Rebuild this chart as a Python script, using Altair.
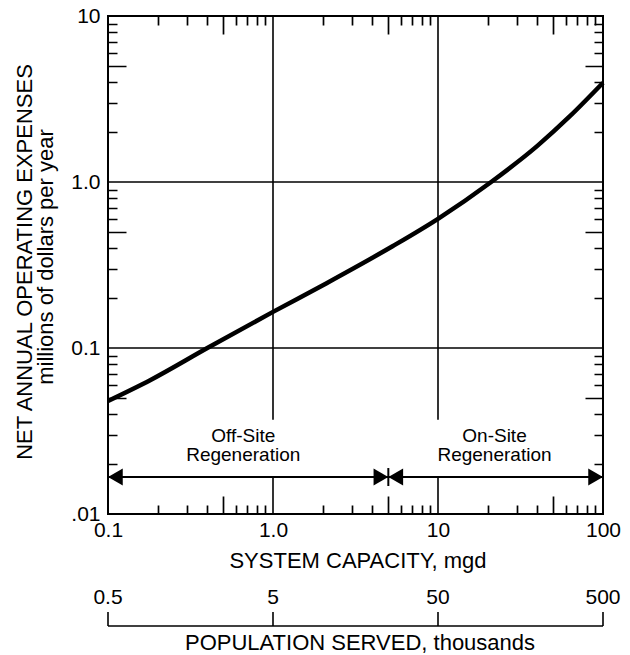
import altair as alt
import pandas as pd

# ---------------- data ----------------
capacity_mgd = [0.1, 0.18, 0.4, 1.0, 2.1, 5.3, 10, 21, 40, 63, 100]
expense_musd = [0.048, 0.064, 0.1, 0.165, 0.245, 0.41, 0.6, 1.0, 1.65, 2.49, 3.96]

x_ticks = [0.1, 1, 10, 100]
x_tick_labels = ["0.1", "1.0", "10", "100"]
y_ticks = [0.01, 0.1, 1, 10]
y_tick_labels = [".01", "0.1", "1.0", "10"]

grid_x = [1, 10]
grid_y = [0.1, 1]
grid_x_gap = [0.037, 0.0167]      # vertical grid lines are interrupted between these

arrow_y = 0.0167
region_bounds = [0.1, 5, 100]     # off-site 0.1-5 mgd, on-site 5-100 mgd
region_text = ["Off-Site\nRegeneration", "On-Site\nRegeneration"]
region_text_x = [0.66, 22]
region_text_y = [0.0295, 0.0295]

population_k = [0.5, 5, 50, 500]
population_labels = ["0.5", "5", "50", "500"]
thousand_people_per_mgd = 5.0

minor_mult = [2, 3, 4, 5, 6, 7, 8, 9]
x_decades = [0.1, 1, 10]
y_decades = [0.01, 0.1, 1]

# ---------------- layout ----------------
W, H = 495, 498
FONT = "Liberation Sans"
XMIN, XMAX = x_ticks[0], x_ticks[-1]
YMIN, YMAX = y_ticks[0], y_ticks[-1]
GRID_W, TICK_W, ARROW_W = 1.6, 1.7, 2.0
SHORT, LONG = 9, 18   # inward tick lengths (px)

xscale = alt.Scale(type="log", domain=[XMIN, XMAX], nice=False)
yscale = alt.Scale(type="log", domain=[YMIN, YMAX], nice=False)


def X(field, **kw):
    return alt.X(field, scale=xscale, axis=None, **kw)


def Y(field, **kw):
    return alt.Y(field, scale=yscale, **kw)


def label_expr(vals, labs):
    s = "''"
    for v, l in zip(vals, labs):
        s = f"abs(datum.value - {v}) < {v} * 0.01 ? '{l}' : " + s
    return s


x_minor = [d * m for d in x_decades for m in minor_mult]
y_all = sorted(y_ticks + [d * m for d in y_decades for m in minor_mult])

LOG10 = "(log(datum.value) / LN10)"
MAJOR_TEST = f"abs({LOG10} - round({LOG10})) < 0.001"
FIVE_TEST = f"abs(datum.value / pow(10, floor({LOG10} + 0.000001)) - 5) < 0.01"


def inward_ticks(span):
    # axis grid lines dashed so that only the two ends (inside the frame) show
    return dict(
        grid=True, gridColor="black", gridWidth=TICK_W,
        gridOpacity={"condition": {"test": MAJOR_TEST, "value": 0}, "value": 1},
        gridDash={"condition": {"test": FIVE_TEST, "value": [LONG, span - 2 * LONG, LONG]},
                  "value": [SHORT, span - 2 * SHORT, SHORT]},
    )


xaxis = alt.Axis(orient="bottom", values=x_ticks,
                 labelExpr=label_expr(x_ticks, x_tick_labels),
                 ticks=False, tickSize=0, domain=False, grid=False,
                 labelFont=FONT, labelFontSize=21, labelColor="black",
                 labelPadding=5, labelFlush=False, labelOverlap=False,
                 title="SYSTEM CAPACITY, mgd", titleFont=FONT, titleFontSize=22,
                 titleFontWeight="normal", titleColor="black",
                 titleX=W / 2 + 2, titleY=53, titleBaseline="alphabetic",
                 titleAlign="center")
x_tick_axis = alt.Axis(orient="top", values=x_minor, labels=False, ticks=False,
                       domain=False, title=None, **inward_ticks(H))
yaxis = alt.Axis(values=y_all, labelExpr=label_expr(y_ticks, y_tick_labels),
                 ticks=False, tickSize=0, domain=False,
                 labelFont=FONT, labelFontSize=21, labelColor="black",
                 labelPadding=8, labelFlush=False, labelOverlap=False,
                 title=None, **inward_ticks(W))

curve_df = pd.DataFrame({"capacity": capacity_mgd, "expense": expense_musd})
curve = alt.Chart(curve_df).mark_line(color="black", strokeWidth=4.5,
                                      interpolate="monotone").encode(
    x=alt.X("capacity:Q", scale=xscale, axis=xaxis),
    y=alt.Y("expense:Q", scale=yscale, axis=yaxis),
)
# carrier for the minor x ticks (drawn by its own axis; the mark is invisible)
x_tick_layer = alt.Chart(curve_df).mark_line(opacity=0).encode(
    x=alt.X("capacity:Q", scale=xscale, axis=x_tick_axis),
    y=Y("expense:Q"),
)

# horizontal grid lines (full width)
hgrid = alt.Chart(pd.DataFrame({"gy": grid_y})).mark_rule(
    color="black", strokeWidth=GRID_W).encode(y=Y("gy:Q"))

# vertical grid lines, interrupted behind the region labels
vrows = []
for gx in grid_x:
    vrows.append({"gx": gx, "gy0": YMAX, "gy1": grid_x_gap[0]})
    vrows.append({"gx": gx, "gy0": grid_x_gap[1], "gy1": YMIN})
vgrid = alt.Chart(pd.DataFrame(vrows)).mark_rule(color="black", strokeWidth=GRID_W).encode(
    x=X("gx:Q"), y=Y("gy0:Q"), y2="gy1:Q")

# region arrow shafts
arows = [{"hx0": a, "hx1": b, "hy": arrow_y}
         for a, b in zip(region_bounds[:-1], region_bounds[1:])]
arrow_line = alt.Chart(pd.DataFrame(arows)).mark_rule(color="black", strokeWidth=ARROW_W).encode(
    x=X("hx0:Q"), x2="hx1:Q", y=Y("hy:Q"))

# arrow heads and divider
left_heads = alt.Chart(pd.DataFrame({"hx": region_bounds[:-1], "hy": arrow_y})).mark_point(
    shape="triangle-left", filled=True, size=290, color="black", opacity=1, xOffset=7.4).encode(
    x=X("hx:Q"), y=Y("hy:Q"))
right_heads = alt.Chart(pd.DataFrame({"hx": region_bounds[1:], "hy": arrow_y})).mark_point(
    shape="triangle-right", filled=True, size=290, color="black", opacity=1, xOffset=-7.4).encode(
    x=X("hx:Q"), y=Y("hy:Q"))
divider = alt.Chart(pd.DataFrame({"hx": region_bounds[1:2], "hy": arrow_y})).mark_tick(
    orient="vertical", size=18, thickness=2, color="black", opacity=1).encode(
    x=X("hx:Q"), y=Y("hy:Q"))

region_labels = alt.Chart(pd.DataFrame({"t": region_text, "rx": region_text_x,
                                        "ry": region_text_y})).mark_text(
    font=FONT, fontSize=19, color="black", baseline="middle", align="center",
    lineBreak="\n", lineHeight=19).encode(
    x=X("rx:Q"), y=Y("ry:Q"), text="t:N")

# y-axis titles
one = pd.DataFrame({"a": [0]})
ytitle = alt.Chart(one).mark_text(
    text="NET ANNUAL OPERATING EXPENSES", font=FONT, fontSize=22, angle=270,
    baseline="alphabetic", align="center", color="black").encode(
    x=alt.value(-76), y=alt.value(246))
ysub = alt.Chart(one).mark_text(
    text="millions of dollars per year", font=FONT, fontSize=22, angle=270,
    baseline="alphabetic", align="center", color="black").encode(
    x=alt.value(-55), y=alt.value(241))

# population (secondary) scale
pop_df = pd.DataFrame({"pop": population_k, "lab": population_labels})
pop_base = alt.Chart(pop_df).transform_calculate(
    cap=f"datum.pop / {thousand_people_per_mgd}")
pop_labels = pop_base.mark_text(font=FONT, fontSize=21, color="black",
                                baseline="middle", align="center").encode(
    x=X("cap:Q"), y=alt.value(582), text="lab:N")
pop_ticks = pop_base.mark_rule(color="black", strokeWidth=1.6).encode(
    x=X("cap:Q"), y=alt.value(610), y2=alt.value(596))
pop_line = alt.Chart(pd.DataFrame({"p0": [population_k[0]], "p1": [population_k[-1]]})).transform_calculate(
    c0=f"datum.p0 / {thousand_people_per_mgd}", c1=f"datum.p1 / {thousand_people_per_mgd}").mark_rule(
    color="black", strokeWidth=1.6).encode(
    x=X("c0:Q"), x2="c1:Q", y=alt.value(610))
pop_title = alt.Chart(one).mark_text(
    text="POPULATION SERVED, thousands", font=FONT, fontSize=22, baseline="alphabetic",
    align="center", color="black").encode(x=alt.value(252), y=alt.value(634))

chart = alt.layer(
    curve, x_tick_layer, hgrid, vgrid, arrow_line, left_heads, right_heads, divider,
    region_labels, ytitle, ysub, pop_labels, pop_ticks, pop_line, pop_title,
).resolve_axis(x="independent").properties(
    width=W, height=H, autosize="none",
    padding={"left": 108, "top": 16, "right": 27, "bottom": 141},
    background="white",
).configure_view(stroke="black", strokeWidth=2)

chart.save("out.html", embed_options={"renderer": "svg", "actions": False})
